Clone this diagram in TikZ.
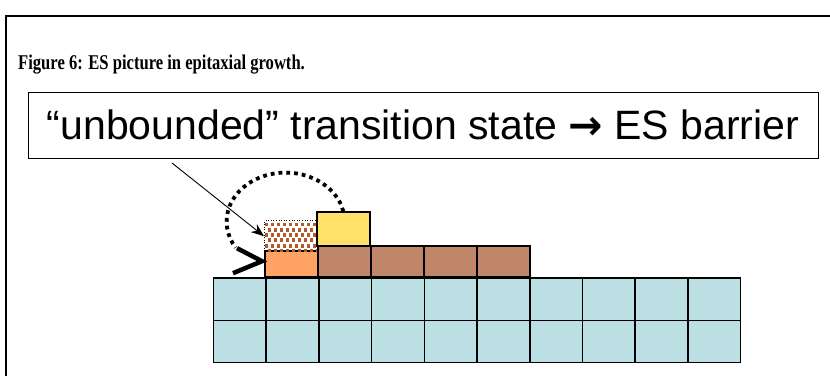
\documentclass[tikz,border=0pt]{standalone}
\usepackage{fontspec}
\setmainfont{Liberation Serif}
\newfontfamily\labelfont{Liberation Sans}
\newfontfamily\arrowfont{DejaVu Sans}
\usepackage{xcolor}
\usetikzlibrary{
	arrows.meta,
	calc,
	positioning
}
\definecolor{subcyan}{HTML}{BBDFE2}
\definecolor{stepbrown}{HTML}{C0866A}
\definecolor{adorange}{HTML}{FFA264}
\definecolor{topyellow}{HTML}{FFE068}
\definecolor{dotbrown}{HTML}{B25A2C}
\tikzset{
	cell/.style={draw, line width=1.6pt, fill=subcyan, minimum width=52.7pt, minimum height=42.2pt, inner sep=0pt, anchor=north west},
	block/.style={draw, line width=1.6pt, minimum width=53pt, inner sep=0pt, anchor=south west}
}

\begin{document}
\begin{tikzpicture}[x=1pt, y=-1pt]
		\useasboundingbox (0,0) rectangle (830,376);
		% frame and texts
		\draw[line width=1.2pt] (830,16) -- (6,16) -- (6,376);
		\node[anchor=base west, inner sep=0pt, font=\bfseries\fontsize{21}{24}\selectfont] (title) at (18,69) {\scalebox{0.79}[1]{Figure 6: ES picture in epitaxial growth.}};
		\node[draw, line width=1pt, minimum width=790pt, minimum height=66pt, inner sep=0pt, font=\labelfont\fontsize{41}{45}\selectfont] (label) at (423,125) {“unbounded” transition state {\arrowfont\bfseries →} ES barrier};
		% substrate
		\foreach \i in {0,...,9}
			\foreach \j in {0,1}
				\node[cell] (s\i\j) at ({212.7+52.7*\i},{277.3+42.2*\j}) {};
		% step and adatoms
		\foreach \i in {1,...,4}
			\node[block, fill=stepbrown, minimum height=31pt] (b\i) at ({264+53*\i},278) {};
		\node[block, fill=adorange, minimum height=26pt] (orange) at (264,278) {};
		\node[block, line width=0.6pt, dotted, minimum height=31pt] (ghost) at (264,252) {};
		\begin{scope}
			\clip ($(ghost.south west)+(0.5,-0.5)$) rectangle ($(ghost.north east)+(-0.5,0.5)$);
			\foreach \r in {0,...,5}
				\foreach \c in {0,...,9}
					\fill[dotbrown] ({264.5+6*\c+3*mod(\r,2)},{222.5+5.3*\r}) rectangle ++(3.8,3.8);
		\end{scope}
		\node[block, fill=topyellow, minimum height=34pt] (top) at (316,247) {};
		% hop over the step edge
		\draw[line width=3.8pt, dash pattern=on 3.8pt off 4pt] (top.north) arc[start angle=-12, end angle=-212, x radius=59, y radius=49];
		\draw[line width=4.5pt, miter limit=3] ($(orange.west)+(-27,-16)$) -- ($(orange.west)+(-2,-3)$) -- ($(orange.west)+(-31,9)$);
		\coordinate (ptr) at (172,163);
		\draw[line width=0.9pt, -{Stealth[length=13pt, width=10pt]}] (ptr) -- (ghost.west);
	\end{tikzpicture}
\end{document}
